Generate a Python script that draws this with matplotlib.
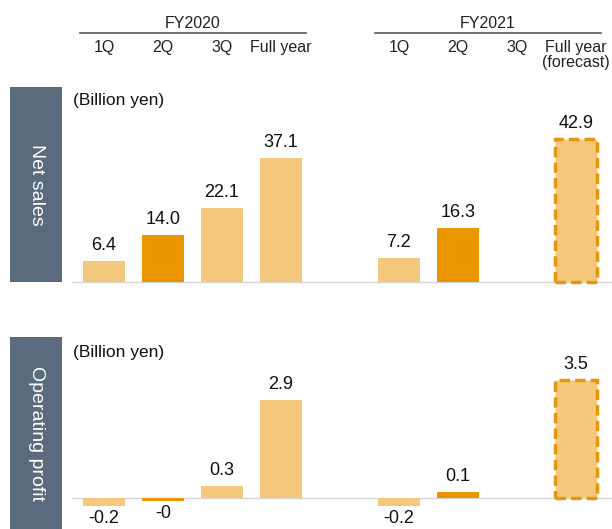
import matplotlib
matplotlib.use("Agg")
import matplotlib.pyplot as plt
from matplotlib.patches import Rectangle
from matplotlib.transforms import blended_transform_factory

plt.rcParams['font.family'] = ['Liberation Sans', 'DejaVu Sans']

# data
years = ['FY2020', 'FY2021']
quarters_2020 = ['1Q', '2Q', '3Q', 'Full year']
quarters_2021 = ['1Q', '2Q', '3Q', 'Full year\n(forecast)']
net_sales_2020 = [6.4, 14.0, 22.1, 37.1]
net_sales_2021 = [7.2, 16.3, None, 42.9]
net_labels_2020 = ['6.4', '14.0', '22.1', '37.1']
net_labels_2021 = ['7.2', '16.3', '', '42.9']
op_profit_2020 = [-0.24, -0.08, 0.35, 2.9]
op_profit_2021 = [-0.24, 0.17, None, 3.5]
op_labels_2020 = ['-0.2', '-0', '0.3', '2.9']
op_labels_2021 = ['-0.2', '0.1', '', '3.5']

light = '#F5C87D'
dark = '#EB9600'
edge = '#E8960F'
panel_col = '#5A6B7D'
W, H = 612, 529

pos_2020 = [0, 1, 2, 3]
pos_2021 = [5, 6, 7, 8]

fig = plt.figure(figsize=(W / 100, H / 100), dpi=100)


def px_axes(left, top, right, bottom):
    return fig.add_axes([left / W, 1 - bottom / H, (right - left) / W, (bottom - top) / H])


def draw_panel(ax, vals_a, labs_a, vals_b, labs_b):
    for pos, vals, labs in [(pos_2020, vals_a, labs_a), (pos_2021, vals_b, labs_b)]:
        for i, (x, v, lab) in enumerate(zip(pos, vals, labs)):
            if v is None:
                continue
            col = dark if i == 1 else light
            forecast = (pos is pos_2021 and i == 3)
            if forecast:
                ax.bar(x, v, width=0.71, color=light, edgecolor=edge, linewidth=2.5,
                       linestyle=(0, (3, 1.5)), zorder=3)
            else:
                ax.bar(x, v, width=0.71, color=col, linewidth=0, zorder=3)
            if v >= 0:
                ax.annotate(lab, (x, v), xytext=(0, 5), textcoords='offset points',
                            ha='center', va='bottom', fontsize=13, color='#111111')
            else:
                ax.annotate(lab, (x, v), xytext=(0, -3), textcoords='offset points',
                            ha='center', va='top', fontsize=13, color='#111111')
    ax.axhline(0, color='#D6D6D6', linewidth=1, zorder=2)
    ax.set_xlim(-0.542, 8.61)
    ax.axis('off')


# top panel: net sales
ax1 = px_axes(72, 87, 612, 290)
ax1.set_ylim(-8 / 3.34, (282 - 87) / 3.34)
draw_panel(ax1, net_sales_2020, net_labels_2020, net_sales_2021, net_labels_2021)

# bottom panel: operating profit
ax2 = px_axes(72, 337, 612, 529)
ax2.set_ylim(-31 / 33.8, (498 - 337) / 33.8)
draw_panel(ax2, op_profit_2020, op_labels_2020, op_profit_2021, op_labels_2021)

# side boxes
for top, bottom, name in [(87, 282, 'Net sales'), (337, 529, 'Operating profit')]:
    fig.add_artist(Rectangle((10 / W, 1 - bottom / H), 52 / W, (bottom - top) / H,
                             transform=fig.transFigure, color=panel_col, linewidth=0))
    fig.text(36 / W, 1 - (top + bottom) / 2 / H, name, rotation=270, color='white',
             fontsize=14, ha='center', va='center')

fig.text(73 / W, 1 - 100 / H, '(Billion yen)', fontsize=12.5, ha='left', va='center', color='#111111')
fig.text(73 / W, 1 - 352 / H, '(Billion yen)', fontsize=12.5, ha='left', va='center', color='#111111')

# header
trans = blended_transform_factory(ax1.transData, fig.transFigure)
for year, pos, names in [(years[0], pos_2020, quarters_2020), (years[1], pos_2021, quarters_2021)]:
    mid = (pos[0] - 0.41 + pos[-1] + 0.42) / 2
    fig.text(mid, 1 - 23 / H, year, transform=trans, fontsize=11.5, ha='center', va='center',
             color='#222222')
    fig.add_artist(plt.Line2D([pos[0] - 0.41, pos[-1] + 0.42], [1 - 33 / H, 1 - 33 / H],
                              transform=trans, color='#555555', linewidth=1.2))
    for x, q in zip(pos, names):
        fig.text(x, 1 - 40 / H, q, transform=trans, fontsize=11.5, ha='center', va='top',
                 linespacing=1.0, color='#222222')

fig.savefig('out.png', dpi=100)
